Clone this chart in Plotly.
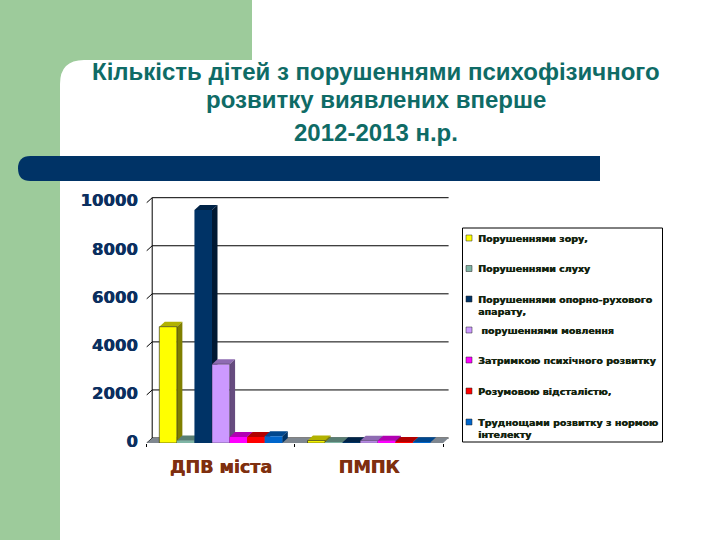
import plotly.graph_objects as go

# ---- data ----
categories = ["ДПВ міста", "ПМПК"]
series_names = [
    "Порушеннями зору,",
    "Порушеннями слуху",
    "Порушеннями опорно-рухового<br>апарату,",
    "&nbsp;порушеннями мовлення",
    "Затримкою психічного розвитку",
    "Розумовою відсталістю,",
    "Труднощами розвитку з нормою<br>інтелекту",
]
values = [
    [4840, 100],
    [100, 30],
    [9700, 30],
    [3280, 90],
    [250, 90],
    [250, 40],
    [280, 30],
]
y_ticks = [0, 2000, 4000, 6000, 8000, 10000]

# ---- style ----
colors = ["#ffff00", "#7fb5a5", "#003366", "#cc99ff", "#ff00ff", "#ff0000", "#0066cc"]
outline_widths = [0.6, 0, 0, 0.4, 0, 0, 0]
W, H = 720, 540
PX0, PX1 = 146.7, 451.0      # plot area, pixels
PY0, PY1 = 443.0, 197.0
PX_PER_CAT = 148.2
PX_PER_UNIT = 240.3 / 10000
DEPTH_X = 5.5 / PX_PER_CAT
DEPTH_Y = 5.0 / PX_PER_UNIT
BARGAP = 0.17
x_range = [-0.5, -0.5 + (PX1 - PX0) / PX_PER_CAT]
y_range = [0, (PY0 - PY1) / PX_PER_UNIT]
n_series = len(values)
bar_w = (1 - BARGAP) / n_series


def shade(hex_color, f):
    r, g, b = (int(hex_color[i:i + 2], 16) for i in (1, 3, 5))
    return f"rgb({int(r * f)},{int(g * f)},{int(b * f)})"


def px(x):
    return x / W


def py(y):
    return 1 - y / H


fig = go.Figure()

# back wall grid and left wall lines
gx, gy = [], []
x_left = x_range[0]
x_right = x_left + 2
for t in y_ticks:
    gx += [x_left - 0.018, x_left, x_left + DEPTH_X, x_right + DEPTH_X, None]
    gy += [t, t, t + DEPTH_Y, t + DEPTH_Y, None]
gx += [x_left + DEPTH_X, x_left + DEPTH_X]
gy += [DEPTH_Y, y_ticks[-1] + DEPTH_Y]
fig.add_trace(go.Scatter(x=gx, y=gy, mode="lines", line=dict(color="#000000", width=1),
                         showlegend=False, hoverinfo="skip", cliponaxis=False))

# floor
fig.add_trace(go.Scatter(
    x=[x_left, x_right, x_right + DEPTH_X, x_left + DEPTH_X, x_left],
    y=[0, 0, DEPTH_Y, DEPTH_Y, 0],
    mode="lines", fill="toself", fillcolor="#7f8790", line=dict(width=0),
    showlegend=False, hoverinfo="skip"))

# tops and sides of the bars, computed from the values
for i, (vals, col) in enumerate(zip(values, colors)):
    for c, v in enumerate(vals):
        left = c - (1 - BARGAP) / 2 + i * bar_w
        right = left + bar_w
        fig.add_trace(go.Scatter(
            x=[left, right, right + DEPTH_X, left + DEPTH_X, left],
            y=[v, v, v + DEPTH_Y, v + DEPTH_Y, v],
            mode="lines", fill="toself", fillcolor=shade(col, 0.7), line=dict(width=0),
            showlegend=False, hoverinfo="skip"))
        fig.add_trace(go.Scatter(
            x=[right, right + DEPTH_X, right + DEPTH_X, right, right],
            y=[0, DEPTH_Y, v + DEPTH_Y, v, 0],
            mode="lines", fill="toself", fillcolor=shade(col, 0.5), line=dict(width=0),
            showlegend=False, hoverinfo="skip"))

# front faces
for name, vals, col, lw in zip(series_names, values, colors, outline_widths):
    fig.add_trace(go.Bar(x=[0, 1], y=vals, name=name.replace("<br>", " "),
                         marker=dict(color=col, line=dict(color="#1a1a1a", width=lw)),
                         xaxis="x2", yaxis="y2", showlegend=False))

# slide decoration
shapes = [
    dict(type="path", xref="paper", yref="paper", layer="below", line=dict(width=0),
         fillcolor="#9dcb9b",
         path=f"M{px(0)},{py(0)} L{px(252)},{py(0)} L{px(252)},{py(60)} L{px(84)},{py(60)} "
              f"Q{px(60)},{py(60)} {px(60)},{py(84)} L{px(60)},{py(540)} L{px(0)},{py(540)} Z"),
    dict(type="path", xref="paper", yref="paper", layer="below", line=dict(width=0),
         fillcolor="#003366",
         path=f"M{px(30.5)},{py(156)} L{px(600)},{py(156)} L{px(600)},{py(181)} L{px(30.5)},{py(181)} "
              f"Q{px(18)},{py(181)} {px(18)},{py(168.5)} Q{px(18)},{py(156)} {px(30.5)},{py(156)} Z"),
    # legend box
    dict(type="rect", xref="paper", yref="paper", x0=px(462.5), x1=px(662.5), y0=py(228), y1=py(442),
         line=dict(color="#000000", width=1), fillcolor="#ffffff", layer="below"),
]

annotations = []
legend_y = [238, 268.5, 299, 330, 360, 391, 422]
LEG_FONT = dict(family="DejaVu Sans", size=9.5, color="#14240f", weight="bold",
                shadow="0.4px 0 0 #14240f")
for name, col, y in zip(series_names, colors, legend_y):
    shapes.append(dict(type="rect", xref="paper", yref="paper", x0=px(466), x1=px(472),
                       y0=py(y - 3), y1=py(y + 3), fillcolor=col,
                       line=dict(color="#222222", width=0.5)))
    annotations.append(dict(text=name, xref="paper", yref="paper", x=px(477), y=py(y - 6.5),
                            xanchor="left", yanchor="top", align="left", showarrow=False,
                            font=LEG_FONT, borderpad=0))

TITLE_FONT = dict(family="Liberation Sans", size=24, color="#0f6b66", weight="bold")
title_lines = ["Кількість дітей з порушеннями психофізичного", "розвитку виявлених вперше", "2012-2013 н.р."]
title_y = [72, 100, 133]
for line, y in zip(title_lines, title_y):
    annotations.append(dict(text=line, xref="paper", yref="paper", x=px(376), y=py(y),
                            xanchor="center", yanchor="middle", showarrow=False,
                            font=TITLE_FONT, borderpad=0))

domain_x = [px(PX0), px(PX1)]
domain_y = [py(PY0), py(PY1)]
fig.update_layout(
    width=W, height=H, margin=dict(l=0, r=0, t=0, b=0, pad=0, autoexpand=False), autosize=False,
    paper_bgcolor="#ffffff", plot_bgcolor="rgba(0,0,0,0)",
    showlegend=False, barmode="group", bargap=BARGAP, bargroupgap=0,
    shapes=shapes, annotations=annotations,
    xaxis=dict(domain=domain_x, range=x_range, tickmode="array", tickvals=[-0.5, 0.5, 1.5],
               ticks="outside", ticklen=3, tickcolor="#000000", showticklabels=False,
               showgrid=False, zeroline=False, showline=False),
    yaxis=dict(domain=domain_y, range=y_range, showticklabels=False, showgrid=False,
               zeroline=False, showline=False, ticks=""),
    xaxis2=dict(overlaying="x", anchor="y2", range=x_range, tickmode="array", tickvals=[0, 1],
                ticktext=categories, ticks="", showgrid=False, zeroline=True, showline=False,
                ticklabelstandoff=11,
                tickfont=dict(family="DejaVu Sans", size=17.5, color="#7f2f0f", weight="bold",
                              shadow="0.6px 0 0 #7f2f0f")),
    yaxis2=dict(overlaying="y", anchor="x2", range=y_range, tickmode="array", tickvals=y_ticks,
                tickformat="d", ticks="", showgrid=False, zeroline=False, showline=False,
                ticklabelstandoff=8, ticklabelshift=-2,
                tickfont=dict(family="DejaVu Sans", size=16.5, color="#0b2f5f", weight="bold",
                              shadow="0.6px 0 0 #0b2f5f")),
)
fig.write_html("out.html", config=dict(displayModeBar=False),
               post_script="document.body.style.margin='0';")
